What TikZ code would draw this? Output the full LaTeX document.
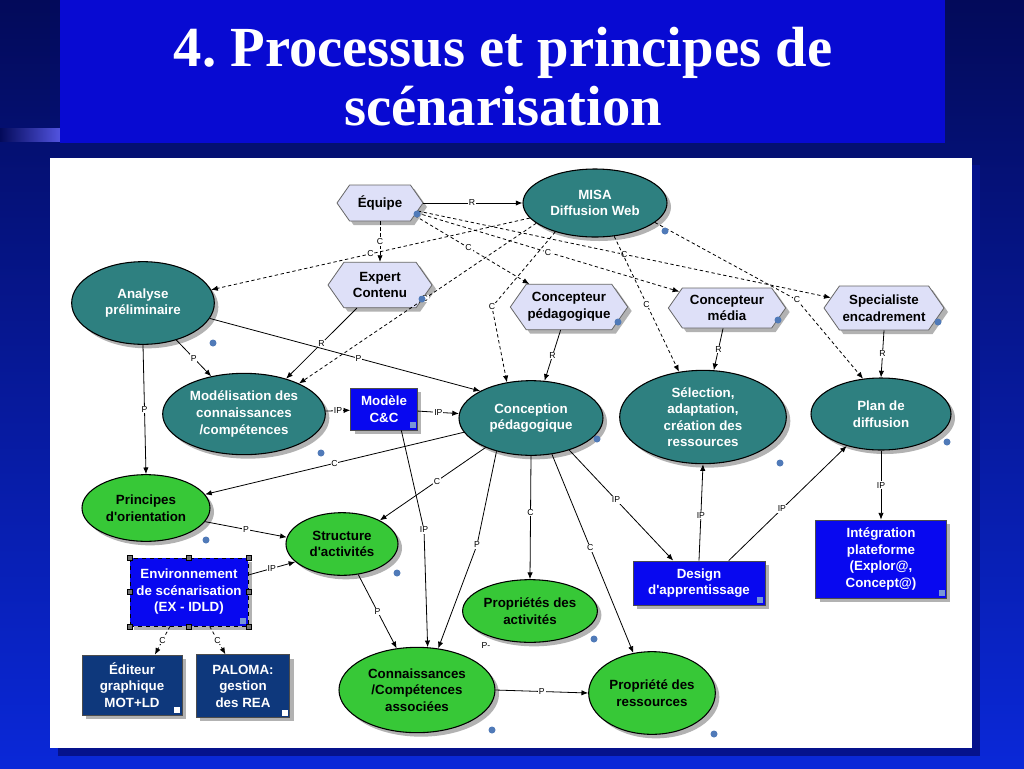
\documentclass[tikz,border=0pt]{standalone}
\usepackage{fontspec}
\setmainfont{Liberation Serif}
\setsansfont{Liberation Sans}
\usetikzlibrary{shapes.geometric,shapes.symbols,shadows,arrows.meta}
\frenchspacing
\definecolor{slidetop}{RGB}{3,10,90}
\definecolor{slidebot}{RGB}{10,40,216}
\definecolor{titleblue}{RGB}{8,10,210}
\definecolor{panelshade}{RGB}{5,18,140}
\definecolor{tealfill}{RGB}{46,128,128}
\definecolor{greenfill}{RGB}{55,200,55}
\definecolor{hexfill}{RGB}{222,224,248}
\definecolor{boxblue}{RGB}{8,8,240}
\definecolor{boxnavy}{RGB}{14,56,124}
\definecolor{noteblue}{RGB}{80,122,184}
\definecolor{cornerblue}{RGB}{120,150,215}
\tikzset{
  base/.style={font=\sffamily\bfseries\fontsize{10}{12.4}\selectfont, align=center, inner sep=1pt,
    drop shadow={shadow xshift=3pt, shadow yshift=-3pt, fill=black!30, opacity=1}},
  procell/.style={base, ellipse, draw=black, line width=0.8pt, fill=tealfill, text=white},
  conell/.style={base, ellipse, draw=black, line width=0.8pt, fill=greenfill, text=black},
  acteur/.style={base, shape=signal, signal to=east and west, signal pointer angle=110,
    draw=black!60, line width=0.6pt, fill=hexfill, text=black},
  outilbox/.style={base, rectangle, draw=black!70, line width=0.6pt, fill=boxblue, text=white},
  logbox/.style={base, rectangle, draw=black!70, line width=0.6pt, fill=boxnavy, text=white},
  lien/.style={draw=black, line width=0.6pt, -{Latex[length=5pt,width=4pt]}},
  lienc/.style={lien, dash pattern=on 2.5pt off 2pt},
  lbl/.style={fill=white, inner sep=0.6pt, font=\sffamily\fontsize{6.5}{7}\selectfont},
  titre/.style={font=\bfseries\fontsize{42.5}{44}\selectfont, text=white, anchor=base},
}
\begin{document}
\begin{tikzpicture}[x=0.75pt,y=-0.75pt]
\useasboundingbox (0,0) rectangle (1024,768);
\shade[top color=slidetop, bottom color=slidebot] (0,0) rectangle (1024,768);
\shade[left color=slidetop, right color=titleblue!70] (0,128) rectangle (60,141);
\fill[titleblue] (60,0) rectangle (945,143);
\node[titre] (titre1) at (503,66) {4. Processus et principes de};
\node[titre] (titre2) at (503,125) {scénarisation};
\fill[panelshade] (58,165) rectangle (980,756);
\fill[white] (50,158) rectangle (972,748);

\node[procell, minimum width=108pt, minimum height=51pt] (misa) at (595,203) {MISA\\Diffusion Web};
\node[acteur, minimum width=64.5pt, minimum height=27pt] (equipe) at (380,203) {Équipe};
\node[acteur, minimum width=78pt, minimum height=34pt] (expert) at (380,285) {Expert\\Contenu};
\node[procell, minimum width=107pt, minimum height=62pt] (analyse) at (143,303) {Analyse\\préliminaire};
\node[acteur, minimum width=86pt, minimum height=34pt] (concped) at (569,307) {Concepteur\\pédagogique};
\node[acteur, minimum width=88pt, minimum height=30pt] (concmedia) at (727,308) {Concepteur\\média};
\node[acteur, minimum width=90pt, minimum height=33pt] (specialiste) at (884,308) {Specialiste\\encadrement};
\node[procell, minimum width=122pt, minimum height=61pt] (modelisation) at (244,414) {Modélisation des\\connaissances\\/compétences};
\node[outilbox, minimum width=50pt, minimum height=31.5pt] (modele) at (384,409) {Modèle\\C\&C};
\node[procell, minimum width=108pt, minimum height=56pt] (conception) at (531,418) {Conception\\pédagogique};
\node[procell, minimum width=125pt, minimum height=70pt] (selection) at (703,417) {Sélection,\\adaptation,\\création des\\ressources};
\node[procell, minimum width=105pt, minimum height=54pt] (plan) at (881,414) {Plan de\\diffusion};
\node[conell, minimum width=96pt, minimum height=50pt] (principes) at (146,508) {Principes\\d\textquotesingle orientation};
\node[conell, minimum width=84pt, minimum height=47pt] (structure) at (342,544) {Structure\\d\textquotesingle activités};
\node[outilbox, draw=black, dashed, minimum width=88.5pt, minimum height=51pt] (env) at (189,592) {Environnement\\de scénarisation\\(EX - IDLD)};
\node[logbox, minimum width=75pt, minimum height=45pt] (editeur) at (132,685) {Éditeur\\graphique\\MOT+LD};
\node[logbox, minimum width=70pt, minimum height=47pt] (paloma) at (243,686) {PALOMA:\\gestion\\des REA};
\node[conell, minimum width=117pt, minimum height=64pt] (connaissances) at (417,690) {Connaissances\\/Compétences\\associées};
\node[conell, minimum width=99pt, minimum height=47pt] (propact) at (530,611) {Propriétés des\\activités};
\node[conell, minimum width=95pt, minimum height=62pt] (propress) at (652,693) {Propriété des\\ressources};
\node[outilbox, minimum width=99pt, minimum height=33pt] (design) at (699,583) {Design\\d\textquotesingle apprentissage};
\node[outilbox, minimum width=98pt, minimum height=58.5pt] (integration) at (881,559) {Intégration\\plateforme\\(Explor@,\\Concept@)};
\node[lbl, fill=none] (pstray) at (486,646) {P-};

\coordinate (kconc) at (492,307);
\coordinate (kplan) at (797,300);
\coordinate (kmodele) at (424,530);
\coordinate (kconn) at (477,545);

\draw[lien] (equipe.east) -- node[lbl, pos=0.49] {R} (misa.west);
\draw[lienc] (equipe.south) -- node[lbl] {C} (expert.north);
\draw[lienc] (equipe.340) -- node[lbl, pos=0.47] {C} (concped.150);
\draw[lienc] (equipe.345) -- node[lbl] {C} (concmedia.161);
\draw[lienc] (equipe.348) -- node[lbl] {C} (specialiste.169);
\draw[lienc] (misa.193) -- node[lbl] {C} (analyse.11);
\draw[lienc] (misa.199) -- node[lbl, pos=0.47] {C} (modelisation.29);
\draw[lienc] (misa.216) -- (kconc) node[lbl] {C} -- (conception.124);
\draw[lienc] (misa.300) -- node[lbl] {C} (selection.118);
\draw[lienc] (misa.342) -- (kplan) node[lbl] {C} -- (plan.117);
\draw[lien] (expert.225) -- node[lbl] {R} (modelisation.40);
\draw[lien] (analyse.347) -- node[lbl, pos=0.55] {P} (conception.152);
\draw[lien] (analyse.312) -- node[lbl] {P} (modelisation.131);
\draw[lien] (analyse.south) -- node[lbl] {P} (principes.north);
\draw[lien] (modelisation) -- node[lbl] {IP} (modele);
\draw[lien] (modele) -- node[lbl] {IP} (conception);
\draw[lien] (modele.309) -- (kmodele) node[lbl] {IP} -- (connaissances.76);
\draw[lien] (conception.192) -- node[lbl] {C} (principes.13);
\draw[lien] (conception.213) -- node[lbl, pos=0.46] {C} (structure.32);
\draw[lien] (conception.224) -- (kconn) node[lbl] {P} -- (connaissances.63);
\draw[lien] (conception.south) -- node[lbl, pos=0.46] {C} (propact.north);
\draw[lien] (conception.300) -- node[lbl, pos=0.47] {C} (propress.115);
\draw[lien] (conception.320) -- node[lbl, pos=0.45] {IP} (design.139);
\draw[lien] (design.north) -- node[lbl, pos=0.47] {IP} (selection.south);
\draw[lien] (design.37) -- node[lbl, pos=0.45] {IP} (plan.223);
\draw[lien] (plan.south) -- node[lbl] {IP} (integration.north);
\draw[lien] (concped.250) -- node[lbl] {R} (conception.70);
\draw[lien] (concmedia.259) -- node[lbl] {R} (selection.77);
\draw[lien] (specialiste.south) -- node[lbl] {R} (plan.north);
\draw[lien] (principes.347) -- node[lbl] {P} (structure.173);
\draw[lien] (env.16) -- node[lbl] {IP} (structure.201);
\draw[lien] (structure.298) -- node[lbl] {P} (connaissances.116);
\draw[lienc] (env.241) -- node[lbl] {C} (editeur.53);
\draw[lienc] (env.301) -- node[lbl] {C} (paloma.119);
\draw[lien] (connaissances.east) -- node[lbl] {P} (propress.west);

\foreach \a in {north west,north,north east,east,south east,south,south west,west}
  \filldraw[fill=black!55, draw=black, line width=0.3pt] (env.\a) ++(-2.5,-2.5) rectangle ++(5,5);
\foreach \n in {modele,env,design,integration}
  \fill[cornerblue] (\n.south east) ++(-8,-8) rectangle ++(6,6);
\foreach \n in {editeur,paloma}
  \fill[white] (\n.south east) ++(-8,-8) rectangle ++(6,6);
\foreach \x/\y in {417/214,422/299,665/231,213/343,618/322,778/320,938/322,321/453,597/439,
  780/463,947/442,206/540,397/573,594/639,492/730,714/734}
  \fill[noteblue] (\x,\y) circle[radius=3.5];
\end{tikzpicture}
\end{document}
